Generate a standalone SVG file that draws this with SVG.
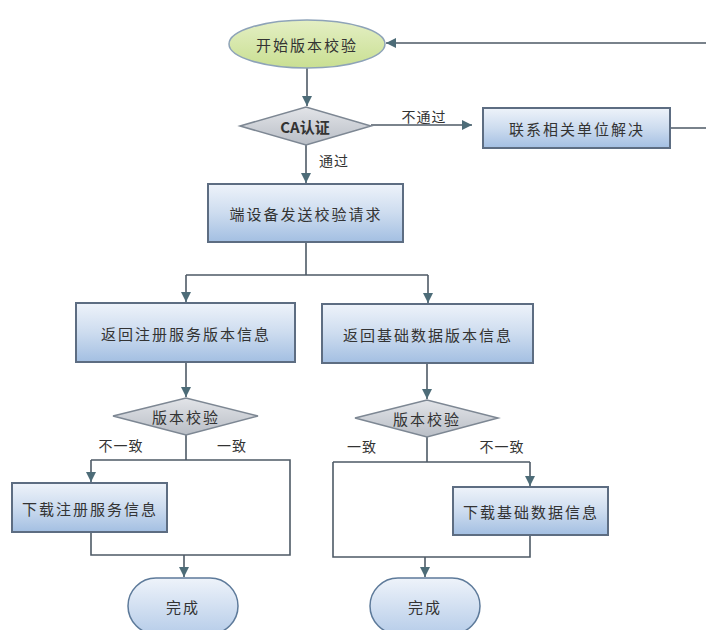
<svg xmlns="http://www.w3.org/2000/svg" width="706" height="630" viewBox="0 0 706 630">
<defs>
<linearGradient id="gBox" x1="0" y1="0" x2="0" y2="1">
<stop offset="0" stop-color="#eef3fa"/><stop offset="0.5" stop-color="#cddcef"/><stop offset="1" stop-color="#a3bfe2"/>
</linearGradient>
<linearGradient id="gDia" x1="0" y1="0" x2="0" y2="1">
<stop offset="0" stop-color="#e2e4e8"/><stop offset="1" stop-color="#b9bec6"/>
</linearGradient>
<linearGradient id="gEnd" x1="0" y1="0" x2="0" y2="1">
<stop offset="0" stop-color="#eef3fa"/><stop offset="1" stop-color="#b7cde9"/>
</linearGradient>
<linearGradient id="gStart" x1="0" y1="0" x2="0" y2="1">
<stop offset="0" stop-color="#e4efc4"/><stop offset="1" stop-color="#c9df92"/>
</linearGradient>
<marker id="arr" markerUnits="userSpaceOnUse" markerWidth="11" markerHeight="11" refX="10" refY="5" orient="auto">
<path d="M0,0 L10,5 L0,10 z" fill="#4d6c78"/>
</marker>
</defs>
<style>
.box{fill:url(#gBox);stroke:#5d6d82;stroke-width:2}
.dia{fill:url(#gDia);stroke:#7d8793;stroke-width:1.5}
.end{fill:url(#gEnd);stroke:#5d7a9a;stroke-width:1.5}
.start{fill:url(#gStart);stroke:#8ea3b8;stroke-width:1.5}
.ln{fill:none;stroke:#4e5a66;stroke-width:1.6}
.arw{marker-end:url(#arr)}
text{font-family:"Noto Sans CJK SC","Liberation Sans",sans-serif;font-size:15px;fill:#333;text-anchor:middle;dominant-baseline:central;letter-spacing:2px}
.lbl{font-size:14px;letter-spacing:1px}
.ca{letter-spacing:0;font-weight:bold}
</style>
<rect width="706" height="630" fill="#ffffff"/>

<g id="connectors">
<path class="ln arw" d="M307,68 V106"/>
<path class="ln arw" d="M371,125 H472"/>
<path class="ln arw" d="M670,128 H716 V43 H386"/>
<path class="ln arw" d="M306,145 V183"/>
<path class="ln" d="M306,242 V275 M186,275 H428"/>
<path class="ln arw" d="M186,275 V302"/>
<path class="ln arw" d="M428,275 V303"/>
<path class="ln arw" d="M186,362 V397"/>
<path class="ln arw" d="M427,363 V399"/>
<path class="ln" d="M186,435 V460 M91,460 H290 V555 H91 V532"/>
<path class="ln arw" d="M91,460 V482"/>
<path class="ln arw" d="M184,555 V577"/>
<path class="ln" d="M427,437 V462 M333,462 H530 M530,535 V557 H333 V462"/>
<path class="ln arw" d="M530,462 V486"/>
<path class="ln arw" d="M425,557 V577"/>
<text class="lbl" x="424" y="116">不通过</text>
<text class="lbl" x="334" y="160">通过</text>
<text class="lbl" x="121" y="445">不一致</text>
<text class="lbl" x="232" y="445">一致</text>
<text class="lbl" x="362" y="446">一致</text>
<text class="lbl" x="502" y="446">不一致</text>
</g>

<g id="start"><ellipse class="start" cx="307" cy="44" rx="78" ry="24"/><text x="307" y="44">开始版本校验</text></g>
<g id="ca"><polygon class="dia" points="240,126 306,107 371,126 306,145"/><text class="ca" x="305" y="126">CA认证</text></g>
<g id="contact"><rect class="box" x="483" y="108" width="187" height="40"/><text x="577" y="128">联系相关单位解决</text></g>
<g id="send"><rect class="box" x="208" y="184" width="195" height="58"/><text x="306" y="213">端设备发送校验请求</text></g>
<g id="retReg"><rect class="box" x="76" y="303" width="219" height="59"/><text x="186" y="333">返回注册服务版本信息</text></g>
<g id="retBase"><rect class="box" x="322" y="304" width="211" height="59"/><text x="428" y="334">返回基础数据版本信息</text></g>
<g id="chkL"><polygon class="dia" points="113,416 186,398 258,416 186,435"/><text x="186" y="416">版本校验</text></g>
<g id="chkR"><polygon class="dia" points="355,418 427,400 498,418 427,437"/><text x="427" y="418">版本校验</text></g>
<g id="dlReg"><rect class="box" x="12" y="483" width="155" height="49"/><text x="90" y="508">下载注册服务信息</text></g>
<g id="dlBase"><rect class="box" x="453" y="487" width="155" height="48"/><text x="531" y="511">下载基础数据信息</text></g>
<g id="doneL"><rect class="end" x="128" y="578" width="110" height="56" rx="28"/><text x="183" y="606">完成</text></g>
<g id="doneR"><rect class="end" x="370" y="578" width="110" height="56" rx="28"/><text x="425" y="606">完成</text></g>
</svg>
